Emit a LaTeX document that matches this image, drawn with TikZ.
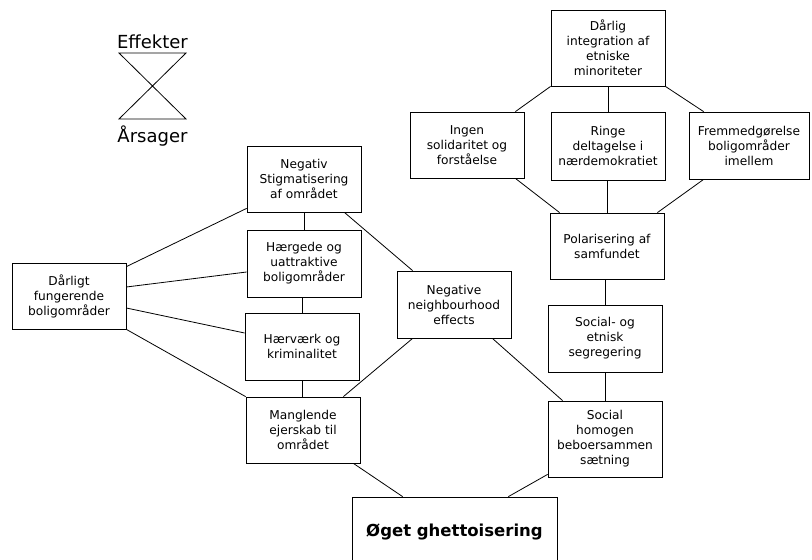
\documentclass[tikz,border=0pt]{standalone}
\usepackage{fontspec}
\setmainfont{DejaVu Sans}
\usetikzlibrary{calc}
\begin{document}
\begin{tikzpicture}[x=1pt,y=-1pt,
  line width=0.8pt,
  box/.style={draw, rectangle, inner sep=0pt, align=center,
    font=\fontsize{12.2}{15}\selectfont, minimum width=114pt},
  link/.style={draw, line width=0.8pt},
  bigtext/.style={font=\fontsize{18}{21}\selectfont, inner sep=0pt}]
\useasboundingbox (0,0) rectangle (812,560);
% hourglass legend
\coordinate (htl) at (119,53);
\coordinate (htr) at (186,53);
\coordinate (hbl) at (119,119);
\coordinate (hbr) at (186,119);
\draw (htl) -- (htr) -- (hbl) -- (hbr) -- cycle;
\node[bigtext] (eff) at (152.5,42) {Effekter};
\node[bigtext] (aars) at (152.5,136) {Årsager};
% boxes
\node[box, minimum height=76pt] (integ) at (608,48) {Dårlig\\integration af\\etniske\\minoriteter};
\node[box, minimum height=66pt] (ingen) at (467,145) {Ingen\\solidaritet og\\forståelse};
\node[box, minimum height=68pt] (ringe) at (608,146) {Ringe\\deltagelse i\\nærdemokratiet};
\node[box, minimum height=67pt, minimum width=120pt] (fremmed) at (749,145.5) {Fremmedgørelse\\boligområder\\imellem};
\node[box, minimum height=66pt] (polar) at (607,246) {Polarisering af\\samfundet};
\node[box, minimum height=67pt] (segr) at (605,338.5) {Social- og\\etnisk\\segregering};
\node[box, minimum height=76pt] (homog) at (605,439) {Social\\homogen\\beboersammen\\sætning};
\node[box, minimum height=67pt] (negnb) at (454,304.5) {Negative\\neighbourhood\\effects};
\node[box, minimum height=66pt] (stigma) at (304,179) {Negativ\\Stigmatisering\\af området};
\node[box, minimum height=67pt] (haergede) at (304,263.5) {Hærgede og\\uattraktive\\boligområder};
\node[box, minimum height=67pt] (haervaerk) at (302,346.5) {Hærværk og\\kriminalitet};
\node[box, minimum height=66pt] (daarligt) at (69,296) {Dårligt\\fungerende\\boligområder};
\node[box, minimum height=66pt] (mangl) at (303,430) {Manglende\\ejerskab til\\området};
\node[draw, rectangle, inner sep=0pt, minimum width=205pt, minimum height=70pt,
  font=\fontsize{16.5}{19}\selectfont\bfseries] (oget) at (454.5,532) {Øget ghettoisering};
% connectors
\draw[link] (integ.south west) -- ($(ingen.north east)+(-9,0)$);
\draw[link] (integ.south) -- (integ.south |- ringe.north);
\draw[link] (integ.south east) -- ($(fremmed.north west)+(15,0)$);
\draw[link] ($(ingen.south east)+(-9,0)$) -- ($(polar.north west)+(10,0)$);
\draw[link] (polar.north) -- (polar.north |- ringe.south);
\draw[link] ($(fremmed.south west)+(15,0)$) -- ($(polar.north east)+(-7,0)$);
\draw[link] (segr.north) -- (segr.north |- polar.south);
\draw[link] (homog.north) -- (homog.north |- segr.south);
\draw[link] ($(negnb.south east)+(-19,0)$) -- ($(homog.north west)+(15,0)$);
\draw[link] ($(homog.south west)+(0,-3)$) -- ($(oget.north east)+(-49,0)$);
\draw[link] ($(mangl.south east)+(-7,0)$) -- ($(oget.north west)+(51,0)$);
\draw[link] ($(mangl.north east)+(-17,0)$) -- ($(negnb.south west)+(16,0)$);
\draw[link] ($(stigma.south east)+(-17,0)$) -- ($(negnb.north west)+(16,0)$);
\draw[link] (haergede.north) -- (haergede.north |- stigma.south);
\draw[link] (haervaerk.north) -- (haervaerk.north |- haergede.south);
\draw[link] (haervaerk.south) -- (haervaerk.south |- mangl.north);
\draw[link] ($(daarligt.north east)+(0,4)$) -- ($(stigma.south west)+(0,-4)$);
\draw[link] ($(daarligt.east)+(0,-9)$) -- ($(haergede.west)+(0,8.5)$);
\draw[link] ($(daarligt.east)+(0,12)$) -- ($(haervaerk.west)+(0,-13.5)$);
\draw[link] (daarligt.south east) -- (mangl.north west);
\end{tikzpicture}
\end{document}
